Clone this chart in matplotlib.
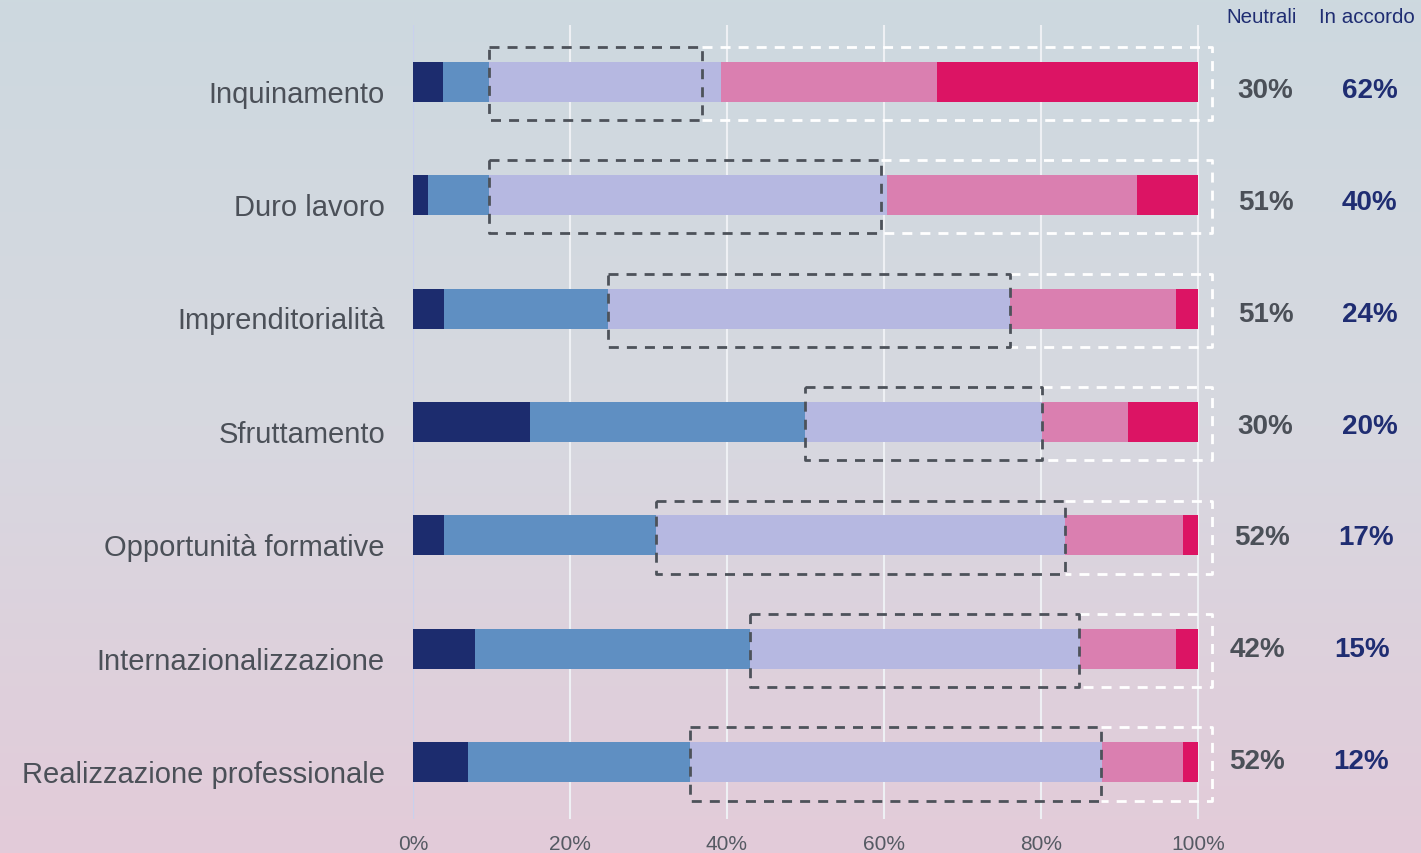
import numpy as np
import matplotlib
matplotlib.use("Agg")
import matplotlib.pyplot as plt
from matplotlib.colors import LinearSegmentedColormap

plt.rcParams['font.family'] = ['Liberation Sans', 'DejaVu Sans']

categories = ["Inquinamento", "Duro lavoro", "Imprenditorialità", "Sfruttamento",
              "Opportunità formative", "Internazionalizzazione", "Realizzazione professionale"]
molto_disaccordo = [3.8, 1.9, 3.9, 14.9, 3.9, 7.9, 7.0]
disaccordo = [5.9, 7.8, 21.0, 35.1, 27.0, 35.0, 28.3]
neutrali = [29.5, 50.7, 51.2, 30.1, 52.1, 42.1, 52.5]
accordo = [27.5, 31.8, 21.1, 11.0, 15.1, 12.2, 10.3]
molto_accordo = [33.3, 7.8, 2.8, 8.9, 1.9, 2.8, 1.9]
box_split = [36.8, 59.6, 76.1, 80.1, 83.0, 84.9, 87.7]
neutral_labels = ["30%", "51%", "51%", "30%", "52%", "42%", "52%"]
agree_labels = ["62%", "40%", "24%", "20%", "17%", "15%", "12%"]
xticks = [0, 20, 40, 60, 80, 100]
xticklabels = ["0%", "20%", "40%", "60%", "80%", "100%"]

colors = ["#1c2c6e", "#5f8fc2", "#b6b8e1", "#da7fb0", "#dc1464"]
text_grey = "#4b5058"
navy_text = "#1f2d72"
box_grey = "#4d525a"

W, H = 1421, 854
fig = plt.figure(figsize=(W / 100, H / 100), dpi=100)

# background gradient
bg = fig.add_axes([0, 0, 1, 1], zorder=-10)
cmap = LinearSegmentedColormap.from_list("bg", ["#cdd9df", "#d7d8e0", "#e3cbd9"])
grad = np.linspace(0, 1, 256).reshape(-1, 1)
bg.imshow(grad, aspect="auto", cmap=cmap, extent=[0, 1, 0, 1], origin="upper")
bg.axis("off")

px = 7.85  # pixels per percent
x0 = 413
xmax = 103
ax = fig.add_axes([x0 / W, (H - 820) / H, xmax * px / W, 794 / H])
ax.patch.set_alpha(0)
ax.set_xlim(0, xmax)
ax.set_ylim(6.5, -0.5)
for s in ax.spines.values():
    s.set_visible(False)

y = np.arange(len(categories))
segs = [molto_disaccordo, disaccordo, neutrali, accordo, molto_accordo]
left = np.zeros(len(categories))
bh = 0.353
for vals, c in zip(segs, colors):
    ax.barh(y, vals, left=left, height=bh, color=c, zorder=3, linewidth=0)
    left = left + np.array(vals)

# gridlines
for xt in xticks:
    ax.axvline(xt, color="#c8d0ee" if xt == 0 else "#eef0f4", lw=1.5, zorder=1)

ax.set_xticks(xticks)
ax.set_xticklabels(xticklabels, fontsize=15, color="#555a63")
ax.tick_params(axis="x", length=0, pad=11)
ax.set_yticks([])

neutral_start = np.array(molto_disaccordo) + np.array(disaccordo)
half = 0.322
dash = (0, (3.6, 2.9))
label_shift = [0, 0, 0, 0, -4, -8, -8.5]  # pixels, right-hand labels drift left
for i in range(len(categories)):
    yc = y[i] + 0.015
    # white box (agree)
    ax.plot([box_split[i], 101.8, 101.8, box_split[i]],
            [yc - half, yc - half, yc + half, yc + half],
            color="white", lw=2, linestyle=dash, zorder=4, clip_on=False)
    # grey box (neutral)
    xs, xe = neutral_start[i], box_split[i]
    ax.plot([xs, xe, xe, xs, xs], [yc - half, yc - half, yc + half, yc + half, yc - half],
            color=box_grey, lw=2, linestyle=dash, zorder=5, clip_on=False)
    # category labels
    ax.text(-3.57, y[i] + 0.105, categories[i], ha="right", va="center",
            fontsize=21, color=text_grey, clip_on=False)
    ly = (8.5 + i * (111.7 - 113.33)) / 113.33 + y[i]
    dx = label_shift[i] / px
    ax.text(108.6 + dx, ly, neutral_labels[i], ha="center", va="center",
            fontsize=20, fontweight="bold", color=text_grey, clip_on=False)
    ax.text(121.9 + dx, ly, agree_labels[i], ha="center", va="center",
            fontsize=20, fontweight="bold", color=navy_text, clip_on=False)

ax.text(108.1, -0.574, "Neutrali", ha="center", va="center", fontsize=14.8,
        color=navy_text, clip_on=False)
ax.text(121.5, -0.574, "In accordo", ha="center", va="center", fontsize=14.8,
        color=navy_text, clip_on=False)

fig.savefig("out.png", dpi=100)
